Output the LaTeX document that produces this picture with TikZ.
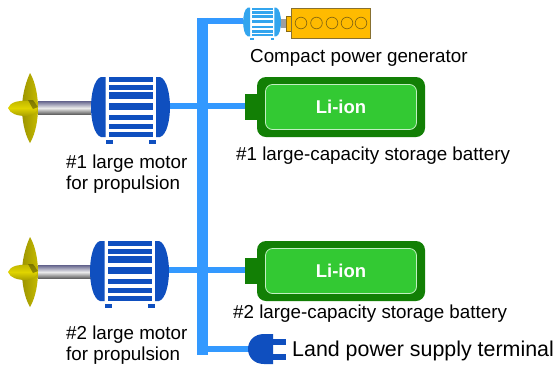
\documentclass[tikz,border=0pt]{standalone}
\usepackage{fontspec}
\setmainfont{Liberation Sans}
\usetikzlibrary{calc}
\definecolor{busblue}{HTML}{3399FF}
\definecolor{motorblue}{HTML}{0F4FBF}
\definecolor{genblue}{HTML}{33A5EE}
\definecolor{battdark}{HTML}{127F05}
\definecolor{battlight}{HTML}{33C933}
\definecolor{engine}{HTML}{FFBB00}
\definecolor{engedge}{HTML}{8A6A10}
\definecolor{prop}{HTML}{E0D400}
\tikzset{
  bus/.style={draw=busblue,line width=6.5pt,line join=miter},
  busthick/.style={draw=busblue,line width=10.5pt,line cap=butt},
  lbl/.style={font=\fontsize{18.8pt}{21pt}\selectfont,align=left,inner sep=0pt,text=black},
}
% motor drawn round (0,0), size 79x60
\newcommand{\motorpic}[5]{% name, x, y, scale, colour
  \begin{scope}[shift={(#2,#3)},scale=#4]
    \fill[#5] (-25.5,-30) -- (-30,-30) .. controls (-37,-28) and (-40,-12) .. (-40,0)
       .. controls (-40,12) and (-37,28) .. (-30,30) -- (-25.5,30) -- cycle;
    \fill[#5] (25,-30) -- (29,-30) .. controls (36,-28) and (39,-12) .. (39,0)
       .. controls (39,12) and (36,28) .. (29,30) -- (25,30) -- cycle;
    \foreach \ya/\yb in {-30/-25.5,-22.5/-17.5,-15/-8.5,-4/3,7.5/13,17/22,25/30}
      \fill[#5] (-22,\ya) rectangle (22,\yb);
    \fill[#5] (-25.5,32.5) rectangle (-18,36.5);
    \fill[#5] (18,32.5) rectangle (25,36.5);
    \node[inner sep=0pt,minimum width=79pt,minimum height=60pt] (#1) at (-0.5,0) {};
  \end{scope}
}
\newcommand{\proppic}[3]{% name,x,y  (hub joint at 0,0)
  \begin{scope}[shift={(#2,#3)}]
    \shade[top color=gray!85!blue,bottom color=gray!70!black,middle color=white!85!gray] (8,-6.5) rectangle (61,6.5);
    \shade[left color=prop!70!black,right color=prop!88!black] (0,-35) .. controls (-6,-22) and (-8,-8) .. (-8,0) .. controls (-8,10) and (-6,25) .. (0,35) .. controls (6,25) and (8,10) .. (8,0) .. controls (8,-10) and (6,-25) .. (0,-35) -- cycle;
    \shade[top color=prop!85!black,bottom color=prop!75!black,middle color=prop] (-22,0) .. controls (-20,-6) and (-10,-8) .. (-4,-7) .. controls (2,-7) and (7,-5) .. (8,-1) .. controls (7,5) and (2,8) .. (-4,8) .. controls (-12,8) and (-20,6) .. (-22,0) -- cycle;
    \fill[prop!35!black,opacity=.55] (-2,-8) -- (3,-8) -- (8,-1) -- (3,1) -- cycle;
    \node[inner sep=0pt,minimum size=1pt] (#1) at (61,0) {};
  \end{scope}
}
\newcommand{\battpic}[3]{% name,x(left of case),y(center)
  \begin{scope}[shift={(#2,#3)}]
    \fill[battdark] (-12,-13) rectangle (2,13);
    \node[inner sep=0pt,minimum width=1pt,minimum height=26pt] (#1t) at (-12,0) {};
    \fill[battdark,rounded corners=9pt] (0,-30) rectangle (168,30);
    \node[draw=white!70!battlight,line width=.8pt,fill=battlight,rounded corners=7pt,minimum width=151pt,minimum height=45pt,inner sep=0pt,
      font=\fontsize{18.5pt}{20pt}\selectfont\bfseries,text=white] (#1) at (84,0) {Li-ion};
  \end{scope}
}
\begin{document}
\begin{tikzpicture}[x=1pt,y=-1pt]
\useasboundingbox (0,0) rectangle (554,365);
\fill[white] (0,0) rectangle (554,365);
\coordinate (top) at (202.5,21);
\coordinate (bottom) at (202.5,349);
\node[inner sep=0pt,minimum size=1pt] (gen) at (243,21) {};
\node[inner sep=0pt,minimum size=1pt] (plug) at (250,349) {};
\node[inner sep=0pt,minimum size=1pt] (m1) at (170,106) {};
\node[inner sep=0pt,minimum size=1pt] (m2) at (169,270) {};
\node[inner sep=0pt,minimum size=1pt] (b1) at (246,106) {};
\node[inner sep=0pt,minimum size=1pt] (b2) at (246,270) {};
\draw[busthick] ($(top)+(0,-3.25)$) -- ($(bottom)+(0,6)$);
\draw[bus] (gen.center) -- (top);
\draw[bus] (bottom) -- (plug.center);
\draw[bus] (m1.center) -- (b1.center);
\draw[bus] (m2.center) -- (b2.center);
% motors and propellers
\proppic{p1}{30}{108}
\motorpic{motor1}{131}{107}{1}{motorblue}
\proppic{p2}{30}{272}
\motorpic{motor2}{130}{271}{1}{motorblue}
% generator
\fill[gray!75] (281,19) rectangle (287,28);
\motorpic{genmotor}{262.3}{22}{.48}{genblue}
\fill[engine,draw=engedge,line width=.4pt] (286,16) rectangle (291,31.5);
\node[draw=engedge!70!gray,line width=.7pt,fill=engine,minimum width=79pt,minimum height=30pt,inner sep=0pt] (engineblock) at (330.5,23) {};
\foreach \cx in {301,316.5,332,347,361}
  \draw[engedge,line width=.7pt] (\cx,23) circle (5.8);
% batteries
\battpic{batt1}{257}{107}
\battpic{batt2}{257}{271}
% plug
\fill[motorblue] (273,334) -- (264,334) .. controls (254,334) and (248,341) .. (248,349) .. controls (248,357) and (254,364) .. (264,364) -- (273,364) -- cycle;
\fill[motorblue] (272,339) rectangle (286,344.5);
\fill[motorblue] (272,354) rectangle (286,359.5);
% labels
\node[lbl,anchor=west] (tgen) at (250,58) {Compact power generator};
\node[lbl,anchor=west] (tm1) at (66,174) {\#1 large motor\\for propulsion};
\node[lbl,anchor=west] (tb1) at (236,156) {\#1 large-capacity storage battery};
\node[lbl,anchor=west] (tm2) at (66,345.5) {\#2 large motor\\for propulsion};
\node[lbl,anchor=west] (tb2) at (233,314) {\#2 large-capacity storage battery};
\node[lbl,anchor=west,font=\fontsize{21.4pt}{24pt}\selectfont] (tplug) at (292,350.5) {Land power supply terminal};
\end{tikzpicture}
\end{document}
